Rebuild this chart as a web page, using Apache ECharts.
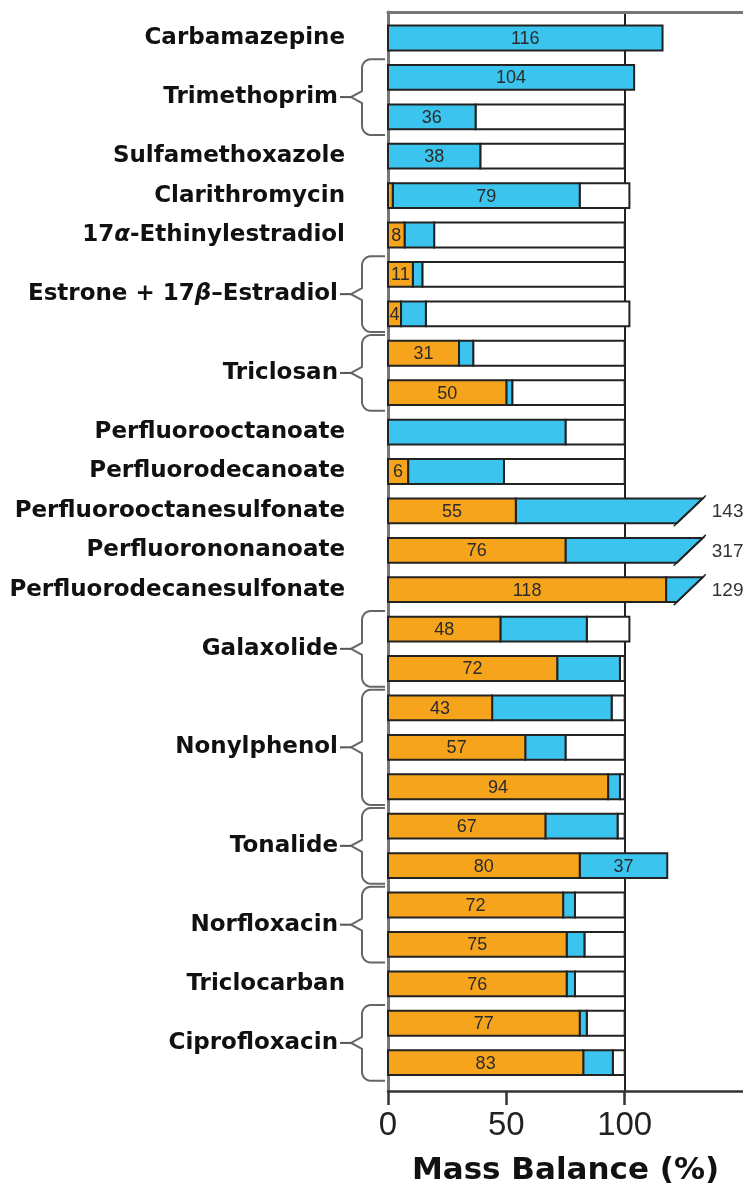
<!DOCTYPE html>
<html><head><meta charset="utf-8">
<script src="https://cdn.jsdelivr.net/npm/echarts@6/dist/echarts.min.js"></script>
<style>html,body{margin:0;padding:0;background:#fff}#c{width:743px;height:1191px}</style>
</head><body><div id="c"></div>
<script>
// ---- data ----
const compounds = ["Carbamazepine","Trimethoprim","Sulfamethoxazole","Clarithromycin","17α-Ethinylestradiol","Estrone + 17β–Estradiol","Triclosan","Perfluorooctanoate","Perfluorodecanoate","Perfluorooctanesulfonate","Perfluorononanoate","Perfluorodecanesulfonate","Galaxolide","Nonylphenol","Tonalide","Norfloxacin","Triclocarban","Ciprofloxacin"];
const groupStart = [0,1,3,4,5,6,8,10,11,12,13,14,15,17,20,22,24,25];
const groupEnd   = [0,2,3,4,5,7,9,10,11,12,13,14,16,19,21,23,24,26];
const orangeVals = [0,0,0,0,2,7,10.5,5.5,30,50,0,8.5,54,75,117.5,47.5,71.5,44,58,93,66.5,81,74,75.5,75.5,81,82.5];
const blueVals   = [116,104,37,39,79,12.5,4,10.5,6,2.5,75,40.5,89,242,11.5,36.5,26.5,50.5,17,5,30.5,37,5,7.5,3.5,3,12.5];
const whiteVals  = [0,0,63,61,21,80.5,85.5,86,64,47.5,25,51,0,0,0,18,2,5.5,25,2,3,0,21,17,21,16,5];
const orangeLabels = ["","","","","","8","11","4","31","50","","6","55","76","118","48","72","43","57","94","67","80","72","75","76","77","83"];
const blueLabels   = ["116","104","36","38","79","","","","","","","","","","","","","","","","","37","","","","",""];
const truncTotals  = [null,null,null,null,null,null,null,null,null,null,null,null,143,317,129,null,null,null,null,null,null,null,null,null,null,null,null];
const xTickLabels = [0, 50, 100];
const breakTop = 133, breakBottom = 122;

const ORANGE = '#F7A41D', BLUE = '#3BC4EE', EDGE = '#222';
const SANS = "'Liberation Sans', Arial, Helvetica, sans-serif";
const rows = orangeVals.map((o, i) => [i, o, blueVals[i], whiteVals[i]]);
const groups = groupStart.map((s, i) => [s, groupEnd[i]]);

function barText(t, x, y) {
  return {type: 'text', z2: 10, style: {text: t, x: x, y: y, align: 'center', verticalAlign: 'middle',
    fontFamily: SANS, fontSize: 18, fill: '#2b2b2b'}};
}

function renderBar(params, api) {
  const i = api.value(0), o = api.value(1), b = api.value(2), w = api.value(3);
  const c = api.coord([0, i]);
  const h = api.size([0, 1])[1] * 0.63;
  const yT = c[1] - h / 2;
  const x0 = c[0];
  const xo = api.coord([o, i])[0];
  const xb = api.coord([o + b, i])[0];
  const ls = {stroke: EDGE, lineWidth: 2};
  const children = [];
  const total = truncTotals[i];
  if (w > 0) {
    const xw = api.coord([o + b + w, i])[0];
    children.push({type: 'rect', shape: {x: xb, y: yT, width: xw - xb, height: h}, style: Object.assign({fill: '#fff'}, ls)});
  }
  if (total != null) {
    const xt = api.coord([breakTop, i])[0], xbm = api.coord([breakBottom, i])[0];
    children.push({type: 'polygon', shape: {points: [[xo, yT], [xt, yT], [xbm, yT + h], [xo, yT + h]]}, style: Object.assign({fill: BLUE}, ls)});
    children.push({type: 'line', shape: {x1: xbm - 3, y1: yT + h + 3, x2: xt + 3, y2: yT - 3}, style: {stroke: EDGE, lineWidth: 1.5}});
    children.push({type: 'text', style: {text: String(total), x: xt + 9, y: c[1] + 1, align: 'left', verticalAlign: 'middle',
      fontFamily: SANS, fontSize: 19, fill: '#333'}});
  } else if (b > 0) {
    children.push({type: 'rect', shape: {x: xo, y: yT, width: xb - xo, height: h}, style: Object.assign({fill: BLUE}, ls)});
    if (blueLabels[i]) children.push(barText(blueLabels[i], (xo + xb) / 2, c[1] + 1));
  }
  if (o > 0) {
    children.push({type: 'rect', shape: {x: x0, y: yT, width: xo - x0, height: h}, style: Object.assign({fill: ORANGE}, ls)});
    if (orangeLabels[i]) children.push(barText(orangeLabels[i], (x0 + xo) / 2, c[1] + 1));
  }
  return {type: 'group', children: children};
}

function arcPts(cx, cy, r, a0, a1) {
  const pts = [];
  for (let k = 0; k <= 6; k++) {
    const a = a0 + (a1 - a0) * k / 6;
    pts.push([cx + r * Math.cos(a), cy + r * Math.sin(a)]);
  }
  return pts;
}

function renderGroup(params, api) {
  const s = api.value(0), e = api.value(1);
  const idx = params.dataIndex;
  const x0 = api.coord([0, s])[0];
  const yM = api.coord([0, (s + e) / 2])[1];
  const braced = e > s;
  const children = [];
  const name = compounds[idx].replace(/([αβ])/g, '{i|$1}');
  children.push({type: 'text', style: {text: name, x: x0 - (braced ? 50 : 43), y: yM, align: 'right', verticalAlign: 'middle',
    fontFamily: 'DejaVu Sans', fontWeight: 'bold', fontSize: 23, fill: '#111',
    rich: {i: {fontFamily: 'DejaVu Sans', fontWeight: 'bold', fontStyle: 'italic', fontSize: 23, fill: '#111'}}}});
  if (braced) {
    const yT = api.coord([0, s - 0.5])[1] + 1.5;
    const yB = api.coord([0, e + 0.5])[1] - 1.5;
    const xv = x0 - 26, xa = x0 - 3, xt = x0 - 37, r = 9;
    let pts = [[xa, yT]];
    pts = pts.concat(arcPts(xv + r, yT + r, r, -Math.PI / 2, -Math.PI));
    pts.push([xv, yM - 6], [xt, yM], [xv, yM + 6]);
    pts = pts.concat(arcPts(xv + r, yB - r, r, Math.PI, Math.PI / 2));
    pts.push([xa, yB]);
    children.push({type: 'polyline', shape: {points: pts}, style: {stroke: '#666', lineWidth: 2, fill: null}});
    children.push({type: 'line', shape: {x1: x0 - 48, y1: yM, x2: xt, y2: yM}, style: {stroke: '#555', lineWidth: 2}});
  }
  return {type: 'group', children: children};
}

const chart = echarts.init(document.getElementById('c'), null, {renderer: 'canvas'});
chart.setOption({
  animation: false,
  backgroundColor: '#fff',
  grid: {left: 388, right: 0, top: 12, bottom: 98, containLabel: false},
  xAxis: [{
    type: 'value', min: 0, max: 150, interval: 50, position: 'bottom',
    axisLine: {show: true, onZero: false, lineStyle: {color: '#333', width: 2.5}},
    axisTick: {show: true, length: 14, customValues: xTickLabels, lineStyle: {color: '#333', width: 2.5}},
    axisLabel: {fontSize: 33, color: '#222', fontFamily: SANS, margin: 18, customValues: xTickLabels,
      formatter: v => xTickLabels.includes(v) ? String(v) : ''},
    splitLine: {show: false},
    name: 'Mass Balance (%)', nameLocation: 'middle', nameGap: 64,
    nameTextStyle: {fontFamily: 'DejaVu Sans', fontWeight: 'bold', fontSize: 31, color: '#111'}
  }, {
    type: 'value', min: 0, max: 150, interval: 100, position: 'top',
    axisLine: {show: true, onZero: false, lineStyle: {color: '#777', width: 3}},
    axisTick: {show: false}, axisLabel: {show: false},
    splitLine: {show: true, showMinLine: false, showMaxLine: false, lineStyle: {color: '#222', width: 2}}
  }],
  yAxis: {
    type: 'value', inverse: true, min: -0.659, max: 26.72,
    axisLine: {show: true, onZero: false, lineStyle: {color: '#777', width: 3}},
    axisTick: {show: false}, axisLabel: {show: false}, splitLine: {show: false}
  },
  series: [{
    type: 'custom', renderItem: renderBar, data: rows, xAxisIndex: 0, yAxisIndex: 0,
    encode: {x: [1, 2, 3], y: 0}, z: 3
  }, {
    type: 'custom', renderItem: renderGroup, data: groups, xAxisIndex: 0, yAxisIndex: 0,
    encode: {y: [0, 1]}, z: 4
  }]
});
</script></body></html>
